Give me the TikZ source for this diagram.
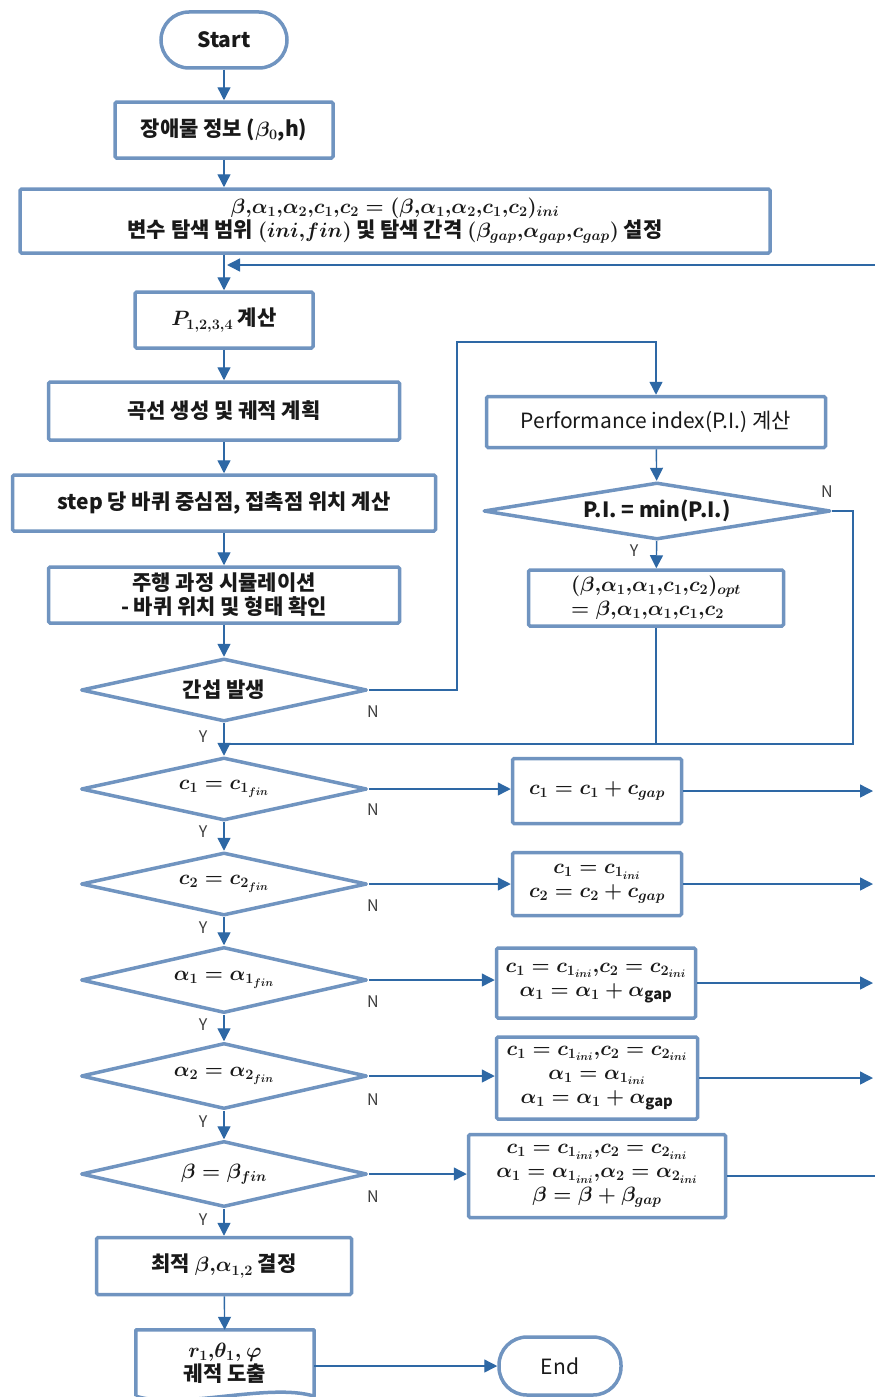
\documentclass[tikz,border=0pt]{standalone}
\usepackage{amsmath}
\usepackage{fontspec}
\setmainfont{Noto Sans CJK KR}
\usetikzlibrary{shapes.geometric,arrows.meta}
\definecolor{bordc}{RGB}{112,148,192}
\definecolor{linec}{RGB}{46,104,165}
\definecolor{txtc}{RGB}{25,25,25}
\definecolor{labc}{RGB}{60,60,60}
\newcommand\mainf{\fontsize{21}{24}\selectfont\bfseries\boldmath\lineskiplimit=-30pt\relax}
\newcommand\labf{\fontsize{16}{18}\selectfont}
\newcommand\cma{{,}}
\begin{document}
\begin{tikzpicture}[x=1pt,y=-1pt,
  box/.style={draw=bordc, line width=3.5pt, rounded corners=1.5pt, fill=white, inner sep=0pt, align=center, font=\mainf, text=txtc},
  term/.style={box, rounded corners=28pt},
  dia/.style={diamond, aspect=5, draw=bordc, line width=3.5pt, line join=round, fill=white, inner sep=0pt, minimum width=286pt, minimum height=63pt, font=\mainf, text=txtc},
  arr/.style={draw=linec, line width=1.4pt, -{Triangle[length=13pt,width=13pt]}},
  ln/.style={draw=linec, line width=1.4pt},
  lab/.style={font=\labf, text=labc, inner sep=0pt}]
\useasboundingbox (0,0) rectangle (875,1397);
\clip (0,0) rectangle (875,1397);

% left column
\node[term, minimum width=126pt, minimum height=56pt] (start) at (224,40) {Start};
\node[box, minimum width=218pt, minimum height=56pt] (obs) at (224,130) {장애물 정보 ($\beta_0$,h)};
\node[box, minimum width=750pt, minimum height=64pt] (init) at (395,221) {$\beta\cma\alpha_1\cma\alpha_2\cma c_1\cma c_2=(\beta\cma\alpha_1\cma\alpha_2\cma c_1\cma c_2)_{ini}$\\변수 탐색 범위 $(ini\cma fin)$ 및 탐색 간격 $(\beta_{gap}\cma\alpha_{gap}\cma c_{gap})$ 설정};
\node[box, minimum width=178pt, minimum height=56pt] (pcal) at (224,320) {$P_{1,2,3,4}$ 계산};
\node[box, minimum width=351pt, minimum height=58pt] (curve) at (224,411) {곡선 생성 및 궤적 계획};
\node[box, minimum width=423pt, minimum height=56pt] (stepb) at (224,503) {step 당 바퀴 중심점, 접촉점 위치 계산};
\node[box, minimum width=351pt, minimum height=56pt] (sim) at (224,595) {주행 과정 시뮬레이션\\- 바퀴 위치 및 형태 확인};
\node[dia] (dint) at (224,690) {간섭 발생};

% right upper
\node[box, minimum width=339pt, minimum height=51pt] (pi) at (656,422) {\mdseries Performance index(P.I.) 계산};
\node[dia, aspect=6, minimum width=347pt, minimum height=57pt] (dpi) at (657,511) {P.I. = min(P.I.)};
\node[box, minimum width=255pt, minimum height=56pt, align=left] (opt) at (656,598) {$(\beta\cma\alpha_1\cma\alpha_1\cma c_1\cma c_2)_{opt}$\\$=\beta\cma\alpha_1\cma\alpha_1\cma c_1\cma c_2$};

% decisions
\node[dia] (d1) at (224,789) {$c_1=c_{1_{fin}}$};
\node[dia] (d2) at (224,884) {$c_2=c_{2_{fin}}$};
\node[dia, minimum height=66pt] (d3) at (224,980) {$\alpha_1=\alpha_{1_{fin}}$};
\node[dia, minimum height=66pt] (d4) at (224,1076) {$\alpha_2=\alpha_{2_{fin}}$};
\node[dia, minimum height=66pt] (d5) at (224,1174) {$\beta=\beta_{fin}$};

\node[box, minimum width=169pt, minimum height=65pt] (b1) at (597,791) {$c_1=c_1+c_{gap}$};
\node[box, minimum width=169pt, minimum height=63pt] (b2) at (597,884) {$c_1=c_{1_{ini}}$\\$c_2=c_2+c_{gap}$};
\node[box, minimum width=199pt, minimum height=70pt] (b3) at (596,983) {$c_1=c_{1_{ini}}\cma c_2=c_{2_{ini}}$\\$\alpha_1=\alpha_1+\alpha_{\mathrm{gap}}$};
\node[box, minimum width=201pt, minimum height=82pt] (b4) at (597,1078) {$c_1=c_{1_{ini}}\cma c_2=c_{2_{ini}}$\\$\alpha_1=\alpha_{1_{ini}}$\\$\alpha_1=\alpha_1+\alpha_{\mathrm{gap}}$};
\node[box, minimum width=257pt, minimum height=83pt] (b5) at (597,1176) {$c_1=c_{1_{ini}}\cma c_2=c_{2_{ini}}$\\$\alpha_1=\alpha_{1_{ini}}\cma\alpha_2=\alpha_{2_{ini}}$\\$\beta=\beta+\beta_{gap}$};

\node[box, minimum width=255pt, minimum height=57pt] (best) at (224,1266) {최적 $\beta\cma\alpha_{1,2}$ 결정};
\node[inner sep=0pt, minimum width=178pt, minimum height=66pt, align=center, font=\mainf, text=txtc] (res) at (225,1363) {$r_1\cma\theta_1\cma\ \varphi$\\궤적 도출};
\draw[bordc, line width=3.5pt, line join=round] (res.south west) -- (res.north west) -- (res.north east) -- (res.south east) .. controls +(-45,-14) and +(45,14) .. (res.south west);
\node[term, minimum width=122pt, minimum height=58pt, font=\mainf\mdseries] (endn) at (560,1366) {End};

% coordinates
\coordinate (ret) at (875,265);
\coordinate (retend) at (227,265);
\coordinate (k1) at (457,342);
\coordinate (k2) at (853,744);
\coordinate (m1) at (224,744);
\coordinate (rx) at (873,0);
\coordinate (rx2) at (876,0);

% connectors
\draw[arr] (start) -- (obs);
\draw[arr] (obs.south) -- (obs.south |- init.north);
\draw[arr] (init.south -| pcal) -- (pcal);
\draw[arr] (ret) -- (retend);
\draw[arr] (pcal) -- (curve);
\draw[arr] (curve) -- (stepb);
\draw[arr] (stepb) -- (sim);
\draw[arr] (sim) -- (dint);
\draw[arr] (dint.east) -| (k1) -| (pi.north);
\draw[arr] (pi) -- (dpi);
\draw[arr] (dpi) -- (opt);
\draw[ln] (dpi.east) -| (k2) -- (m1);
\draw[ln] (opt.south) -- (opt.south |- m1);
\draw[arr] (dint) -- (d1);
\draw[arr] (d1) -- (d2);
\draw[arr] (d2) -- (d3);
\draw[arr] (d3) -- (d4);
\draw[arr] (d4) -- (d5);
\draw[arr] (d5) -- (best);
\draw[arr] (best) -- (res);
\draw[arr] (res.east |- endn) -- (endn);
\draw[arr] (d1.east) -- (d1.east -| b1.west);
\draw[arr] (d2.east) -- (d2.east -| b2.west);
\draw[arr] (d3.east) -- (d3.east -| b3.west);
\draw[arr] (d4.east) -- (d4.east -| b4.west);
\draw[arr] (d5.east) -- (d5.east -| b5.west);
\draw[arr] (b1.east) -- (b1.east -| rx);
\draw[arr] (b2.east) -- (b2.east -| rx);
\draw[arr] (b3.east) -- (b3.east -| rx);
\draw[arr] (b4.east) -- (b4.east -| rx);
\draw[ln] (b5.east) -- (b5.east -| rx2);

% labels
\node[lab] (n0) at (373,712) {N};
\node[lab] (n1) at (827,492) {N};
\node[lab] (n2) at (373,810) {N};
\node[lab] (n3) at (373,906) {N};
\node[lab] (n4) at (373,1002) {N};
\node[lab] (n5) at (373,1100) {N};
\node[lab] (n6) at (373,1197) {N};
\node[lab] (y0) at (634,551) {Y};
\node[lab] (y1) at (203,737) {Y};
\node[lab] (y2) at (203,832) {Y};
\node[lab] (y3) at (203,928) {Y};
\node[lab] (y4) at (203,1025) {Y};
\node[lab] (y5) at (203,1122) {Y};
\node[lab] (y6) at (203,1220) {Y};
\end{tikzpicture}
\end{document}
